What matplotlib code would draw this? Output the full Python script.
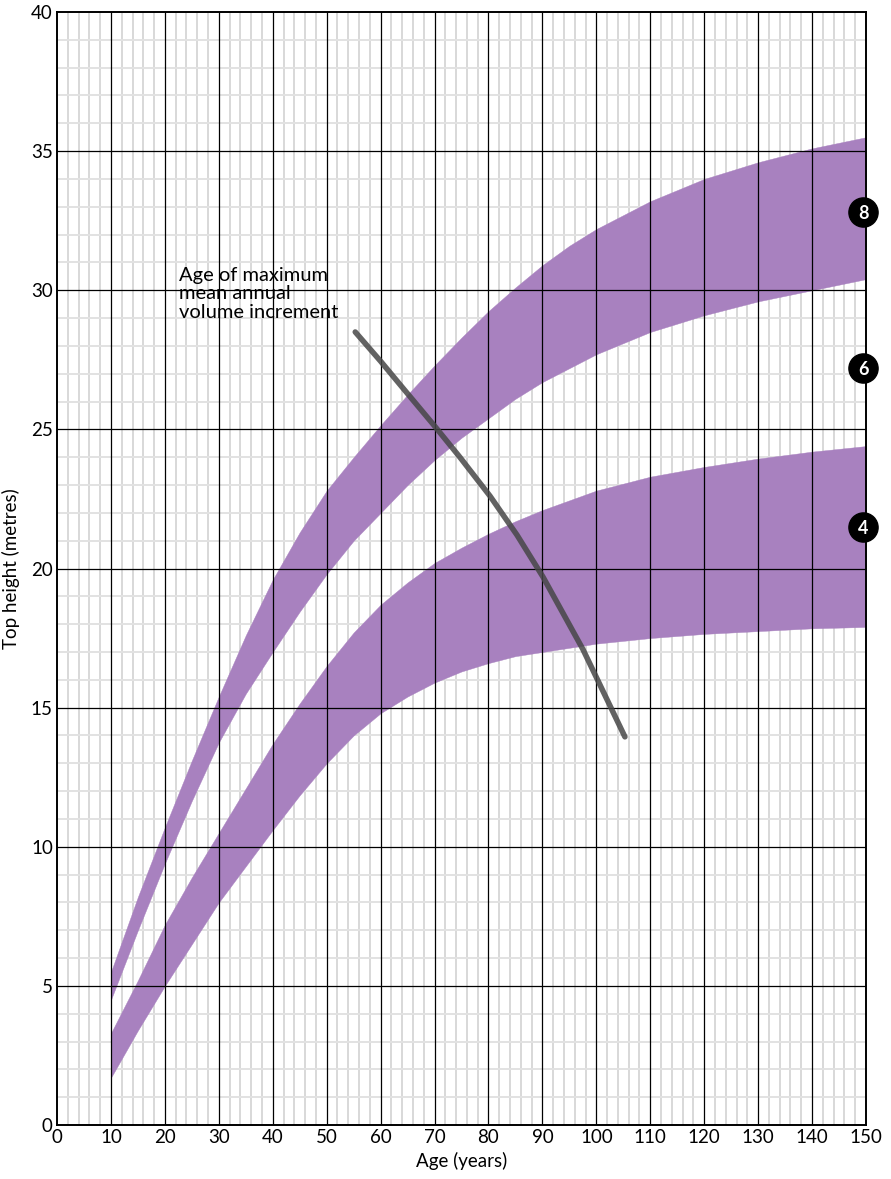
import matplotlib
matplotlib.use("Agg")
import matplotlib.pyplot as plt
import numpy as np

plt.rcParams['font.family'] = ['Lato', 'DejaVu Sans']

# ---- data ----
ages = [10, 15, 20, 25, 30, 35, 40, 45, 50, 55, 60, 65, 70, 75, 80, 85, 90, 95,
        100, 110, 120, 130, 140, 150]
# upper band (yield classes 6-8)
upper_top = [5.5, 8.2, 10.7, 13.1, 15.4, 17.6, 19.6, 21.3, 22.8, 24.0, 25.15, 26.25,
             27.3, 28.3, 29.25, 30.1, 30.9, 31.6, 32.2, 33.2, 34.0, 34.6, 35.1, 35.5]
upper_bot = [4.5, 7.0, 9.4, 11.65, 13.75, 15.5, 17.0, 18.45, 19.8, 21.0, 22.0, 23.0,
             23.9, 24.7, 25.4, 26.1, 26.7, 27.2, 27.7, 28.5, 29.1, 29.6, 30.0, 30.4]
# lower band (yield class 4)
lower_top = [3.3, 5.2, 7.2, 8.9, 10.5, 12.1, 13.7, 15.15, 16.5, 17.7, 18.7, 19.5,
             20.2, 20.75, 21.25, 21.7, 22.1, 22.45, 22.8, 23.3, 23.65, 23.95, 24.2, 24.4]
lower_bot = [1.7, 3.4, 5.0, 6.5, 8.0, 9.3, 10.6, 11.85, 13.0, 14.0, 14.8, 15.4,
             15.9, 16.3, 16.6, 16.85, 17.0, 17.15, 17.3, 17.5, 17.65, 17.75, 17.85, 17.9]

# age of maximum mean annual volume increment
mai_age = [55.3, 60.0, 64.5, 70.1, 74.7, 80.3, 85.3, 90.1, 97.5, 105.3]
mai_height = [28.5, 27.45, 26.4, 25.1, 24.0, 22.6, 21.2, 19.7, 17.1, 13.95]

badge_labels = ['8', '6', '4']
badge_heights = [32.8, 27.2, 21.5]
badge_age = 149.5

x_ticks = list(range(0, 151, 10))
y_ticks = list(range(0, 41, 5))

# ---- figure ----
fig = plt.figure(figsize=(8.91, 11.79), dpi=100)
ax = fig.add_axes([57/891, 54/1179, (866-57)/891, (1125-12)/1179])

ax.set_xlim(0, 150)
ax.set_ylim(0, 40)

band_color = '#a881bf'
ax.fill_between(ages, upper_bot, upper_top, color=band_color, lw=0.3,
                edgecolor=band_color, zorder=2)
ax.fill_between(ages, lower_bot, lower_top, color=band_color, lw=0.3,
                edgecolor=band_color, zorder=2)

# grids: minor under the bands, major above
ax.set_xticks(x_ticks)
ax.set_yticks(y_ticks)
ax.set_xticks(np.arange(0, 151, 2), minor=True)
ax.set_yticks(np.arange(0, 41, 1), minor=True)
ax.set_axisbelow(True)
ax.grid(which='minor', axis='x', color='#d8d8d8', lw=1.4)
ax.grid(which='minor', axis='y', color='#e2e2e2', lw=1.4)
for xv in x_ticks[1:-1]:
    ax.axvline(xv, color='black', lw=0.9, zorder=3)
for yv in y_ticks[1:-1]:
    ax.axhline(yv, color='black', lw=0.9, zorder=3)

ax.tick_params(which='both', length=0, labelsize=13.5, pad=3)

ax.plot(mai_age, mai_height, color='#474747', lw=4.0, alpha=0.85,
        solid_capstyle='round', solid_joinstyle='round', zorder=4)

for lab, h in zip(badge_labels, badge_heights):
    ax.plot([badge_age], [h], marker='o', ms=21, color='black', clip_on=False, zorder=10)
    ax.text(badge_age, h - 0.05, lab, color='white', fontsize=13, fontweight='bold',
            ha='center', va='center', zorder=11, clip_on=False)

ax.text(22.6, 30.85, 'Age of maximum\nmean annual\nvolume increment', fontsize=14.5,
        ha='left', va='top', linespacing=1.13, zorder=5)

for s in ax.spines.values():
    s.set_linewidth(1.4)
    s.set_zorder(8)

ax.set_xlabel('Age (years)', fontsize=13.5, labelpad=4)
ax.set_ylabel('Top height (metres)', fontsize=13.5, labelpad=8)

fig.savefig('out.png', dpi=100)
